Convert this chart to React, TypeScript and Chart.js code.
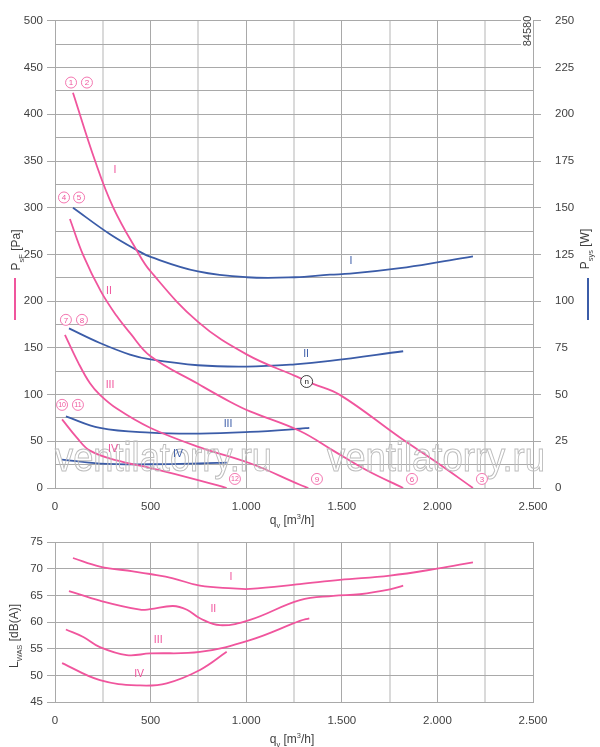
import React, { useEffect, useRef } from "react";
import { Chart, registerables } from "chart.js";

Chart.register(...registerables);

const PINK = "#f0559d";
const BLUE = "#3b5ca8";
const GRID = "#a9a9a9";
const GRID_LIGHT = "#dadada";
const TEXT = "#3f3f3f";
const FONT = '"Liberation Sans", Arial, Helvetica, sans-serif';

Chart.defaults.font.family = FONT;

// pressure curves P_sF [Pa] vs q_v [m3/h]
const presIQ = [94, 209, 303, 427, 500, 748, 1002, 1255, 1350, 1490, 1804, 2003, 2186];
const presI = [423, 350.5, 301, 254.5, 231.8, 177.8, 143, 120, 111.5, 99.7, 54, 26.5, 0];
const presIIQ = [78, 148, 240, 323, 392, 500, 748, 915, 1020, 1281, 1455, 1630, 1821];
const presII = [288, 249, 210.5, 184, 166, 141, 111.5, 92.4, 82, 61, 40, 19, 0];
const presIIIQ = [52, 122, 183, 235, 323, 497, 758, 1020, 1281, 1325];
const presIII = [164, 134, 112, 99.7, 85, 64.5, 43.5, 26.5, 3.5, 0];
const presIVQ = [37, 114, 183, 323, 497, 758, 898];
const presIV = [73.5, 54, 40, 29.6, 21.5, 8, 0];

// power curves P_sys [W]
const powIQ = [94, 288, 427, 500, 748, 1002, 1255, 1438, 1543, 1804, 2014, 2186];
const powI = [150, 135.8, 127.4, 123.7, 115.9, 112.8, 112.8, 114.2, 114.7, 117.7, 121, 124];
const powIIQ = [73, 235, 392, 500, 748, 1002, 1255, 1438, 1821];
const powII = [85.4, 77.6, 71.4, 68.8, 65.7, 65.0, 66.2, 68.0, 73.2];
const powIIIQ = [57, 235, 497, 758, 1020, 1281, 1330];
const powIII = [38.3, 32.2, 29.6, 29.1, 30, 31.7, 32.2];
const powIVQ = [37, 235, 497, 758, 898];
const powIV = [15.2, 13.1, 12.7, 13.1, 13.6];

// sound power L_WAS [dB(A)]
const noiseIQ = [94, 235, 408, 497, 617, 758, 931, 1020, 1281, 1490, 1752, 1998, 2186];
const noiseI = [72, 70.4, 69.5, 69.0, 68.2, 66.8, 66.3, 66.2, 67.1, 67.9, 68.7, 70.0, 71.2];
const noiseIIQ = [73, 235, 445, 497, 617, 690, 758, 863, 1020, 1281, 1455, 1595, 1752, 1821];
const noiseII = [65.8, 64.0, 62.3, 62.4, 63.0, 62.3, 60.7, 59.4, 60.4, 64.1, 64.9, 65.2, 66.1, 66.8];
const noiseIIIQ = [57, 148, 235, 375, 497, 758, 1020, 1281, 1330];
const noiseIII = [58.6, 57.2, 55.3, 53.8, 54.1, 54.4, 56.6, 60.2, 60.7];
const noiseIVQ = [37, 235, 445, 584, 758, 898];
const noiseIV = [52.3, 49.1, 48.1, 48.5, 51.0, 54.4];

// curve labels
const romans = ["I", "II", "III", "IV"];
const presLabelQ = [314, 282, 288, 303];
const presLabelP = [340, 211, 110, 42];
const powLabelQ = [1548, 1313, 905, 643];
const powLabelW = [121.5, 71.8, 34.3, 18];
const noiseLabelQ = [920, 828, 540, 440];
const noiseLabelDb = [68.5, 62.4, 56.6, 50.2];

// circled point markers
const circleText = ["1", "2", "4", "5", "7", "8", "10", "11", "12", "9", "6", "3"];
const circleQ = [84, 167, 47, 126, 57, 141, 37, 120, 941, 1370, 1867, 2233];
const circleP = [434, 434, 311, 311, 180, 180, 89, 89, 9.7, 9.7, 9.7, 9.7];

const pts = (q: number[], v: number[]) => q.map((x, i) => ({ x, y: v[i] }));

const fmtQ = (v: number) =>
  v >= 1000 ? `${Math.floor(v / 1000)}.${String(v % 1000).padStart(3, "0")}` : String(v);

type Part = [string, "n" | "sub" | "sup"];

function drawRich(ctx: CanvasRenderingContext2D, parts: Part[], x: number, y: number, size: number) {
  const small = size * 0.62;
  let w = 0;
  parts.forEach(([t, k]) => {
    ctx.font = `${k === "n" ? size : small}px ${FONT}`;
    w += ctx.measureText(t).width;
  });
  let cx = x - w / 2;
  ctx.textAlign = "left";
  ctx.textBaseline = "alphabetic";
  parts.forEach(([t, k]) => {
    ctx.font = `${k === "n" ? size : small}px ${FONT}`;
    const dy = k === "sub" ? size * 0.3 : k === "sup" ? -size * 0.42 : 0;
    ctx.fillText(t, cx, y + dy);
    cx += ctx.measureText(t).width;
  });
}

function drawRotated(ctx: CanvasRenderingContext2D, parts: Part[], x: number, y: number, size: number) {
  ctx.save();
  ctx.translate(x, y);
  ctx.rotate(-Math.PI / 2);
  drawRich(ctx, parts, 0, 0, size);
  ctx.restore();
}

function circled(ctx: CanvasRenderingContext2D, cx: number, cy: number, t: string, color: string, r = 5.5) {
  ctx.beginPath();
  ctx.arc(cx, cy, r, 0, Math.PI * 2);
  ctx.fillStyle = "#fff";
  ctx.fill();
  ctx.lineWidth = 0.8;
  ctx.strokeStyle = color;
  ctx.stroke();
  ctx.fillStyle = color;
  ctx.font = `${t.length > 1 ? 7 : 8}px ${FONT}`;
  ctx.textAlign = "center";
  ctx.textBaseline = "middle";
  ctx.fillText(t, cx, cy + 0.5);
}

function watermark(ctx: CanvasRenderingContext2D, x0: number, x1: number, base: number) {
  const txt = "ventilatorry.ru";
  ctx.save();
  ctx.font = `40px ${FONT}`;
  const w = ctx.measureText(txt).width;
  ctx.translate(x0, base);
  ctx.scale((x1 - x0) / w, 1);
  ctx.strokeStyle = "#bdbdbd";
  ctx.lineWidth = 1;
  ctx.textAlign = "left";
  ctx.textBaseline = "alphabetic";
  ctx.strokeText(txt, 0, 0);
  ctx.restore();
}

const line = (data: { x: number; y: number }[], color: string, yAxisID = "y") => ({
  data,
  borderColor: color,
  borderWidth: 1.8,
  pointRadius: 0,
  fill: false,
  tension: 0.4,
  yAxisID,
});

const xScale = (height: number) => ({
  type: "linear" as const,
  min: 0,
  max: 2500,
  afterFit: (s: any) => {
    s.height = height;
  },
  border: { color: GRID },
  grid: {
    drawTicks: false,
    color: (c: any) => (c.tick && c.tick.value % 500 !== 0 ? GRID_LIGHT : GRID),
    lineWidth: (c: any) => (c.tick && c.tick.value % 500 !== 0 ? 2 : 1),
  },
  ticks: {
    stepSize: 250,
    autoSkip: false,
    maxRotation: 0,
    padding: 12,
    color: TEXT,
    font: { size: 11.5 },
    callback: (v: any) => (v % 500 === 0 ? fmtQ(v) : ""),
  },
});

const App: React.FC = () => {
  const topRef = useRef<HTMLCanvasElement>(null);
  const botRef = useRef<HTMLCanvasElement>(null);

  useEffect(() => {
    if (!topRef.current || !botRef.current) return;

    const topOverlay = {
      id: "topOverlay",
      afterDatasetsDraw(chart: any) {
        const { ctx, scales } = chart;
        const { x, y, y2 } = scales;
        ctx.save();
        watermark(ctx, 55, 272, 471);
        watermark(ctx, 327, 545, 471);
        ctx.font = `10.5px ${FONT}`;
        ctx.textAlign = "center";
        ctx.textBaseline = "middle";
        romans.forEach((r, i) => {
          ctx.fillStyle = PINK;
          ctx.fillText(r, x.getPixelForValue(presLabelQ[i]), y.getPixelForValue(presLabelP[i]));
          ctx.fillStyle = BLUE;
          ctx.fillText(r, x.getPixelForValue(powLabelQ[i]), y2.getPixelForValue(powLabelW[i]));
        });
        circleText.forEach((t, i) => {
          circled(ctx, x.getPixelForValue(circleQ[i]), y.getPixelForValue(circleP[i]), t, PINK);
        });
        circled(ctx, x.getPixelForValue(1316), y.getPixelForValue(114), "n", "#111", 6);
        ctx.restore();
      },
      afterDraw(chart: any) {
        const { ctx } = chart;
        ctx.save();
        ctx.fillStyle = TEXT;
        drawRotated(ctx, [["P", "n"], ["sF", "sub"], [" [Pa]", "n"]], 20, 250, 12);
        drawRotated(ctx, [["P", "n"], ["sys", "sub"], [" [W]", "n"]], 589, 249, 12);
        drawRich(ctx, [["q", "n"], ["v", "sub"], [" [m", "n"], ["3", "sup"], ["/h]", "n"]], 292, 524, 12);
        // id number in the corner
        ctx.fillStyle = "#fff";
        ctx.fillRect(521, 14, 12, 34);
        ctx.fillStyle = TEXT;
        ctx.save();
        ctx.translate(531, 31);
        ctx.rotate(-Math.PI / 2);
        ctx.font = `11px ${FONT}`;
        ctx.textAlign = "center";
        ctx.textBaseline = "alphabetic";
        ctx.fillText("84580", 0, 0);
        ctx.restore();
        // legend strokes
        ctx.lineWidth = 2;
        ctx.strokeStyle = PINK;
        ctx.beginPath();
        ctx.moveTo(15, 278);
        ctx.lineTo(15, 320);
        ctx.stroke();
        ctx.strokeStyle = BLUE;
        ctx.beginPath();
        ctx.moveTo(588, 278);
        ctx.lineTo(588, 320);
        ctx.stroke();
        ctx.restore();
      },
    };

    const botOverlay = {
      id: "botOverlay",
      afterDatasetsDraw(chart: any) {
        const { ctx, scales } = chart;
        const { x, y } = scales;
        ctx.save();
        ctx.font = `10.5px ${FONT}`;
        ctx.textAlign = "center";
        ctx.textBaseline = "middle";
        ctx.fillStyle = PINK;
        romans.forEach((r, i) => {
          ctx.fillText(r, x.getPixelForValue(noiseLabelQ[i]), y.getPixelForValue(noiseLabelDb[i]));
        });
        ctx.restore();
      },
      afterDraw(chart: any) {
        const { ctx } = chart;
        ctx.save();
        ctx.fillStyle = TEXT;
        drawRotated(ctx, [["L", "n"], ["WAS", "sub"], [" [dB(A)]", "n"]], 18, 106, 12);
        drawRich(ctx, [["q", "n"], ["v", "sub"], [" [m", "n"], ["3", "sup"], ["/h]", "n"]], 292, 213, 12);
        ctx.restore();
      },
    };

    const yTicks = (step: number, every: number, pad: number) => ({
      stepSize: step,
      autoSkip: false,
      padding: pad,
      color: TEXT,
      font: { size: 11.5 },
      callback: (v: any) => (Math.abs(v % every) < 1e-6 ? String(v) : ""),
    });
    const tickColor = (every: number) => (c: any) =>
      c.tick && Math.abs(c.tick.value % every) < 1e-6 ? GRID : "rgba(0,0,0,0)";

    const top = new Chart(topRef.current, {
      type: "line",
      data: {
        datasets: [
          line(pts(presIQ, presI), PINK),
          line(pts(presIIQ, presII), PINK),
          line(pts(presIIIQ, presIII), PINK),
          line(pts(presIVQ, presIV), PINK),
          line(pts(powIQ, powI), BLUE, "y2"),
          line(pts(powIIQ, powII), BLUE, "y2"),
          line(pts(powIIIQ, powIII), BLUE, "y2"),
          line(pts(powIVQ, powIV), BLUE, "y2"),
        ] as any,
      },
      options: {
        responsive: false,
        animation: false,
        layout: { padding: { top: 10, left: 0, right: 0, bottom: 0 } },
        plugins: { legend: { display: false }, tooltip: { enabled: false } },
        scales: {
          x: xScale(42),
          y: {
            type: "linear",
            min: 0,
            max: 500,
            afterFit: (s: any) => {
              s.width = 55;
            },
            border: { color: GRID },
            grid: { color: GRID, tickLength: 8, tickColor: tickColor(50) },
            ticks: yTicks(25, 50, 4),
          },
          y2: {
            type: "linear",
            position: "right",
            min: 0,
            max: 250,
            afterFit: (s: any) => {
              s.width = 67;
            },
            border: { color: GRID },
            grid: { drawOnChartArea: false, tickLength: 8, tickColor: tickColor(25) },
            ticks: yTicks(12.5, 25, 14),
          },
        },
      } as any,
      plugins: [topOverlay],
    });

    const bot = new Chart(botRef.current, {
      type: "line",
      data: {
        datasets: [
          line(pts(noiseIQ, noiseI), PINK),
          line(pts(noiseIIQ, noiseII), PINK),
          line(pts(noiseIIIQ, noiseIII), PINK),
          line(pts(noiseIVQ, noiseIV), PINK),
        ] as any,
      },
      options: {
        responsive: false,
        animation: false,
        layout: { padding: { top: 12, left: 0, right: 67, bottom: 0 } },
        plugins: { legend: { display: false }, tooltip: { enabled: false } },
        scales: {
          x: xScale(45),
          y: {
            type: "linear",
            min: 45,
            max: 75,
            afterFit: (s: any) => {
              s.width = 55;
            },
            border: { color: GRID },
            grid: { color: GRID, tickLength: 8, tickColor: GRID },
            ticks: yTicks(5, 5, 4),
          },
        },
      } as any,
      plugins: [botOverlay],
    });

    return () => {
      top.destroy();
      bot.destroy();
    };
  }, []);

  return (
    <div style={{ position: "absolute", left: 0, top: 0, width: 600, height: 747, background: "#fff" }}>
      <canvas ref={topRef} width={600} height={530} style={{ display: "block", width: 600, height: 530 }} />
      <canvas ref={botRef} width={600} height={217} style={{ display: "block", width: 600, height: 217 }} />
    </div>
  );
};

export default App;
